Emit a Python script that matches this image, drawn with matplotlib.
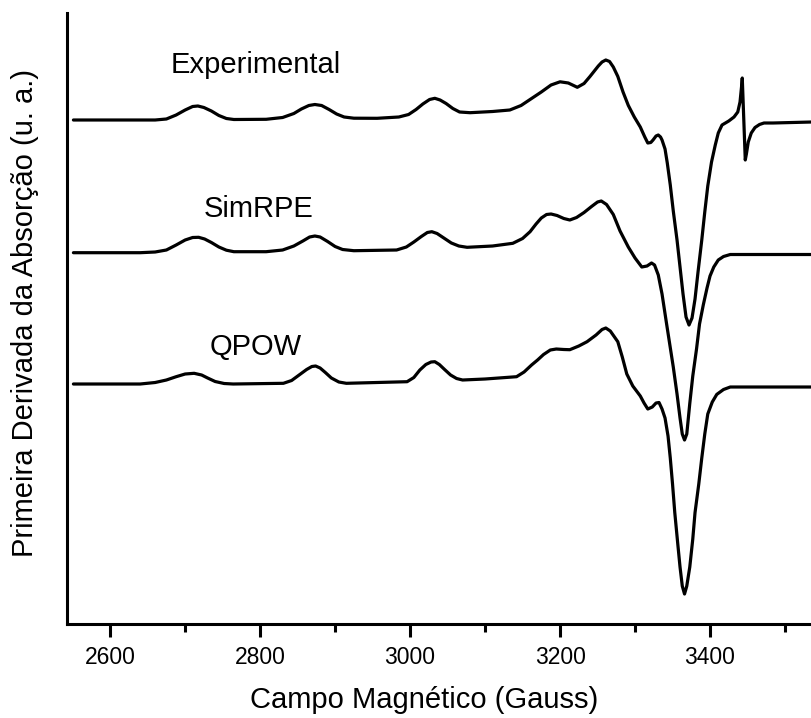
import matplotlib
matplotlib.use("Agg")
import matplotlib.pyplot as plt
from matplotlib.ticker import MultipleLocator

plt.rcParams["font.family"] = ["Liberation Sans", "DejaVu Sans"]

# Campo magnético (G) e sinal (u. a.)
exp_field = [2551, 2613, 2660, 2675, 2688, 2700, 2710, 2717, 2725, 2735,
             2745, 2755, 2765, 2808, 2830, 2845, 2855, 2865, 2873, 2882,
             2892, 2902, 2912, 2925, 2956, 2985, 2998, 3008, 3017, 3026,
             3033, 3040, 3048, 3057, 3066, 3080, 3110, 3133, 3148, 3160,
             3175, 3188, 3200, 3211, 3218, 3223, 3232, 3240, 3251, 3256,
             3261, 3266, 3271, 3277, 3284, 3291, 3299, 3307, 3313, 3317,
             3321, 3324, 3328, 3331, 3334, 3336, 3340, 3343, 3347, 3351,
             3356, 3360, 3364, 3368, 3372, 3376, 3380, 3384, 3389, 3393,
             3397, 3402, 3407, 3411, 3416, 3425, 3432, 3437, 3440, 3442,
             3443, 3445, 3447, 3448.5, 3451, 3455, 3460, 3466, 3472, 3484,
             3536]
exp_signal = [504, 504, 504, 505, 509, 514, 517.5, 518, 516.5, 513,
              508.5, 505.5, 504.5, 504.7, 506.5, 510.5, 515, 518.5, 519.5, 518.5,
              514.5, 510, 507, 505.8, 505.7, 507, 509.5, 514.5, 520, 524.5,
              525.7, 524, 520.5, 515.5, 512, 511.3, 512.5, 514, 518.5, 524.5,
              532, 539, 542.2, 541, 538.5, 536.7, 540.5, 547.6, 558, 562,
              564, 562.5, 557, 547.6, 532, 518.6, 507, 497, 487, 481,
              481.5, 484, 488, 489, 487, 484, 475, 461, 439, 413,
              384, 357, 330, 307, 299, 306, 325, 352, 384, 412,
              438, 462, 479, 491, 499, 503, 507, 512, 522, 537,
              546, 505, 464, 470, 482, 491, 496.5, 499.5, 501, 501,
              502]

sim_field = [2551, 2640, 2660, 2675, 2688, 2700, 2710, 2718, 2726, 2735,
             2745, 2755, 2765, 2808, 2830, 2845, 2857, 2866, 2873, 2880,
             2890, 2900, 2910, 2925, 2982, 2995, 3005, 3015, 3023, 3029,
             3036, 3045, 3055, 3065, 3076, 3110, 3137, 3150, 3160, 3168,
             3175, 3182, 3188, 3196, 3205, 3213, 3222, 3232, 3242, 3250,
             3255, 3262, 3271, 3280, 3291, 3300, 3309, 3316, 3322, 3326,
             3331, 3336, 3342, 3351, 3356, 3360, 3363, 3366, 3369, 3373,
             3377, 3382, 3386, 3391, 3396, 3400, 3405, 3411, 3418, 3427,
             3536]
sim_signal = [371.3, 371.3, 372, 374, 379, 384, 386.5, 386.7, 385, 381.5,
              377, 373.8, 372.3, 372.3, 374, 378, 383, 387, 388, 387,
              382.5, 377.5, 374.5, 373.3, 374, 377, 382, 387.5, 391.5, 392.3,
              390.5, 386, 381, 378, 376.7, 378, 380.7, 385.5, 392.3, 400,
              406, 409.5, 410, 408.5, 405.5, 404, 406.5, 411.5, 417.5, 422,
              423, 419.5, 409.5, 393, 377, 366, 357, 358, 361, 359,
              349, 330, 300.5, 257, 230, 206, 190, 184, 190, 220.5,
              248, 275, 300, 319, 336, 348, 357, 364, 367.5, 369.5,
              369.5]

qpow_field = [2551, 2640, 2660, 2675, 2688, 2700, 2712, 2722, 2730, 2740,
              2752, 2764, 2831, 2842, 2852, 2862, 2869, 2874, 2880, 2887,
              2895, 2905, 2915, 2996, 3005, 3013, 3021, 3028, 3033, 3039,
              3046, 3054, 3062, 3070, 3100, 3142, 3152, 3162, 3170, 3178,
              3187, 3195, 3205, 3213, 3225, 3236, 3248, 3256, 3261, 3267,
              3277, 3283, 3289, 3297, 3307, 3312, 3317, 3323, 3328, 3332,
              3336, 3340, 3344, 3347, 3350, 3353, 3357, 3360, 3363, 3366,
              3369, 3373, 3377, 3380, 3385, 3389, 3393, 3397, 3403, 3409,
              3418, 3427, 3536]
qpow_signal = [240, 240, 241.5, 244, 247.3, 250, 250.7, 249, 246, 242.5,
               240.5, 240, 240.7, 243.5, 249, 254.5, 257.5, 258, 256, 251.5,
               246, 242, 240.7, 242.3, 246.5, 254, 259.5, 262, 262.3, 259.5,
               254.5, 249, 245.5, 244, 245, 247.3, 252, 259, 264, 269.5,
               274, 275, 274.5, 274.3, 278, 282.3, 289, 294.5, 296, 293,
               282.3, 267, 250, 238, 228, 221, 215, 217, 221, 221.5,
               215, 206, 188, 166, 140, 111.4, 80, 57, 38, 30,
               38, 57, 85, 111.4, 140, 166, 190, 210, 222, 229.6,
               234.5, 237, 237]

labels = ["Experimental", "SimRPE", "QPOW"]
label_x = [2680, 2725, 2732]
label_y = [551, 407, 269]

fig = plt.figure(figsize=(8.12, 7.18), dpi=100)
ax = fig.add_axes([0.0821, 0.1309, 1 - 0.0821, 0.851])

for fx, sy in [(exp_field, exp_signal), (sim_field, sim_signal), (qpow_field, qpow_signal)]:
    ax.plot(fx, sy, color="black", lw=2.3, solid_joinstyle="round", solid_capstyle="round")

for txt, tx, ty in zip(labels, label_x, label_y):
    ax.text(tx, ty, txt, fontsize=21, ha="left", va="baseline")

ax.set_xlim(2542, 3536)
ax.set_ylim(0, 611)
ax.spines["top"].set_visible(False)
ax.spines["right"].set_visible(False)
ax.spines["left"].set_linewidth(2.2)
ax.spines["bottom"].set_linewidth(2.2)
ax.set_yticks([])
ax.xaxis.set_major_locator(MultipleLocator(200))
ax.xaxis.set_minor_locator(MultipleLocator(100))
ax.tick_params(axis="x", which="major", length=9.5, width=2.2, labelsize=16.5, pad=6)
ax.tick_params(axis="x", which="minor", length=6, width=2.2)

fig.text(0.522, 0.025, "Campo Magnético (Gauss)", fontsize=21, ha="center", va="center")
fig.text(0.031, 0.564, "Primeira Derivada da Absorção (u. a.)", fontsize=21,
         ha="center", va="center", rotation=90)

fig.savefig("out.png", dpi=100)
